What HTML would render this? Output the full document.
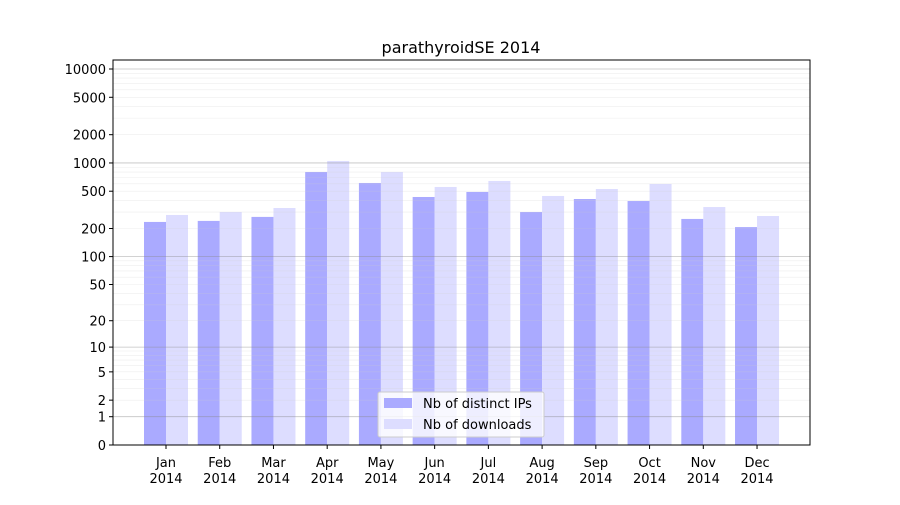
<!DOCTYPE html>
<html><head><meta charset="utf-8"><style>
body{margin:0;background:#fff;font-family:"Liberation Sans","DejaVu Sans",sans-serif;}
svg text{font-family:"DejaVu Sans","Liberation Sans",sans-serif;}
</style></head><body>
<svg id="chart" width="900" height="500" xmlns="http://www.w3.org/2000/svg">
<rect width="900" height="500" fill="#fff"/>
<text x="461" y="53" font-size="16" text-anchor="middle">parathyroidSE 2014</text>
<g id="bars"></g><g id="grid"></g><g id="axes"></g>
<g>
<rect x="378" y="392" width="166" height="45" fill="#fff" fill-opacity="0.8" stroke="#ccc" rx="2"/>
<rect x="384" y="398" width="28" height="10" fill="#aaaaff"/>
<text x="423" y="408" font-size="13">Nb of distinct IPs</text>
<rect x="384" y="419" width="28" height="10" fill="#ddddff"/>
<text x="423" y="429" font-size="13">Nb of downloads</text>
</g>
</svg>
<script>
const months=["Jan","Feb","Mar","Apr","May","Jun","Jul","Aug","Sep","Oct","Nov","Dec"];
const ips=[235,241,266,801,612,434,491,300,413,393,253,207];
const downloads=[279,300,331,1050,801,555,643,445,528,597,339,272];
const yTicks=[0,1,2,5,10,20,50,100,200,500,1000,2000,5000,10000];
const NS="http://www.w3.org/2000/svg";
const L=113,R=810,T=60,B=445;
function y(v){return B-94*Math.log10(1+v);}
function xc(i){return 166+i*53.73;}
function mk(tag,attrs,parent){const e=document.createElementNS(NS,tag);for(const k in attrs)e.setAttribute(k,attrs[k]);parent.appendChild(e);return e;}
const grid=document.getElementById('grid'),bars=document.getElementById('bars'),axes=document.getElementById('axes');
for(let d=1;d<=1000;d*=10){for(let m=1;m<10;m++){const v=d*m;const yy=y(v);
const g=mk('line',{x1:L,x2:R,y1:yy,y2:yy,stroke:m==1?'#888':'#ccc','stroke-opacity':m==1?0.5:0.35,'stroke-width':m==1?0.8:0.6},grid);
}}
{const yy=y(10000);const g=mk('line',{x1:L,x2:R,y1:yy,y2:yy,stroke:'#888','stroke-opacity':0.5,'stroke-width':0.8},grid);}
months.forEach((m,i)=>{
const c=xc(i);
const b1=mk('rect',{x:c-22,y:y(ips[i]),width:22,height:B-y(ips[i]),fill:'#aaaaff'},bars);


const b2=mk('rect',{x:c,y:y(downloads[i]),width:22,height:B-y(downloads[i]),fill:'#ddddff'},bars);


mk('line',{x1:c,x2:c,y1:B,y2:B+4,stroke:'#000'},axes);
const t=mk('text',{x:c,y:B+22,'font-size':13,'text-anchor':'middle'},axes);t.textContent=m;

const t2=mk('text',{x:c,y:B+38,'font-size':13,'text-anchor':'middle'},axes);t2.textContent='2014';

});
yTicks.forEach(v=>{const yy=y(v);
mk('line',{x1:L-4,x2:L,y1:yy,y2:yy,stroke:'#000'},axes);
const t=mk('text',{x:L-7,y:yy+5,'font-size':13,'text-anchor':'end'},axes);t.textContent=v;
});
const f=mk('rect',{x:L,y:T,width:R-L,height:B-T,fill:'none',stroke:'#000','stroke-width':1},axes);

</script>
</body></html>
